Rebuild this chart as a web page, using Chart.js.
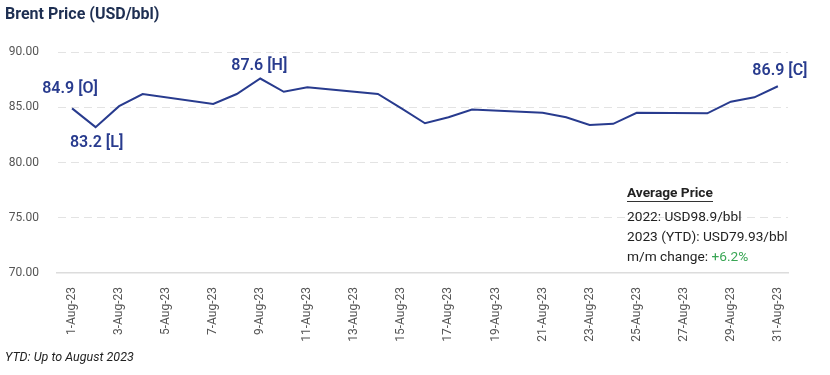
<!DOCTYPE html>
<html>
<head>
<meta charset="utf-8">
<script src="https://cdn.jsdelivr.net/npm/chart.js@4"></script>
<style>
  html, body { margin: 0; padding: 0; background: #fff; }
  #wrap { position: relative; width: 830px; height: 375px; font-family: Roboto, sans-serif; }
  #c { position: absolute; left: 0; top: 0; }
  .title { position: absolute; left: 5px; top: 4px; font-size: 16px; font-weight: 700; color: #1e2f52; }
  .foot { position: absolute; left: 5px; top: 349px; font-size: 12.5px; font-style: italic; color: #222; }
  .avg { position: absolute; left: 627px; top: 182px; font-size: 13.7px; color: #222; line-height: 20px; }
  .avg .hd { font-weight: 700; border-bottom: 1.5px solid #333; display: inline-block; line-height: 18px; margin-bottom: 4px; }
  .avg .up { color: #3aa655; }
</style>
</head>
<body>
<div id="wrap">
  <canvas id="c" width="830" height="375"></canvas>
  <div class="title">Brent Price (USD/bbl)</div>
  <div class="avg">
    <div class="hd">Average Price</div>
    <div>2022: USD98.9/bbl</div>
    <div>2023 (YTD): USD79.93/bbl</div>
    <div>m/m change: <span class="up">+6.2%</span></div>
  </div>
  <div class="foot">YTD: Up to August 2023</div>
</div>
<script>
// August 2023 trading days and Brent closes
const days   = [1, 2, 3, 4, 7, 8, 9, 10, 11, 14, 15, 16, 17, 18, 21, 22, 23, 24, 25, 28, 29, 30, 31];
const prices = [84.9, 83.2, 85.1, 86.2, 85.3, 86.2, 87.6, 86.4, 86.8, 86.2, 84.9, 83.55, 84.1, 84.8, 84.5, 84.1, 83.4, 83.5, 84.5, 84.45, 85.5, 85.9, 86.9];
const tickDays = [1, 3, 5, 7, 9, 11, 13, 15, 17, 19, 21, 23, 25, 27, 29, 31];
const yTicks = [70, 75, 80, 85, 90];
// open / low / high / close markers
const marks = [
  { day: 1,  tag: 'O' },
  { day: 2,  tag: 'L' },
  { day: 9,  tag: 'H' },
  { day: 31, tag: 'C' }
];
const markOffset = { O: [-2, -19], L: [1, 16], H: [-1, -13], C: [2, -15] };

const navy = '#283b8e';

const markLabels = {
  id: 'markLabels',
  afterDatasetsDraw(chart) {
    const { ctx, scales: { x, y } } = chart;
    ctx.save();
    ctx.font = '600 16px Roboto, sans-serif';
    ctx.fillStyle = navy;
    ctx.textAlign = 'center';
    ctx.textBaseline = 'middle';
    marks.forEach(m => {
      const v = prices[days.indexOf(m.day)];
      const [dx, dy] = markOffset[m.tag];
      ctx.fillText(`${v.toFixed(1)} [${m.tag}]`, x.getPixelForValue(m.day) + dx, y.getPixelForValue(v) + dy);
    });
    ctx.restore();
  }
};

Chart.defaults.font.family = 'Roboto, sans-serif';

new Chart(document.getElementById('c'), {
  type: 'line',
  data: {
    datasets: [{
      data: days.map((d, i) => ({ x: d, y: prices[i] })),
      borderColor: navy,
      borderWidth: 2,
      pointRadius: 0,
      tension: 0,
      fill: false
    }]
  },
  options: {
    responsive: false,
    animation: false,
    layout: { padding: { left: 7, right: 42, top: 52, bottom: 27 } },
    plugins: { legend: { display: false }, tooltip: { enabled: false } },
    scales: {
      x: {
        type: 'linear', min: 0.36, max: 31.43,
        afterBuildTicks: s => { s.ticks = tickDays.map(v => ({ value: v })); },
        afterFit: s => { s.height = 75; },
        grid: { display: false },
        border: { color: '#dcdcdc', width: 1.5 },
        ticks: {
          color: '#555', font: { size: 12 },
          minRotation: 90, maxRotation: 90, padding: 6, autoSkip: false,
          callback: v => `${v}-Aug-23`
        }
      },
      y: {
        min: 70, max: 90,
        afterBuildTicks: s => { s.ticks = yTicks.map(v => ({ value: v })); },
        afterFit: s => { s.width = 50; },
        grid: { color: ctx => ctx.tick.value === 70 ? 'transparent' : '#e3e3e3', lineWidth: 1, drawTicks: false },
        border: { display: true, color: 'transparent', dash: [8, 5] },
        ticks: { color: '#555', font: { size: 12 }, padding: 18, callback: v => v.toFixed(2) }
      }
    }
  },
  plugins: [markLabels]
});
</script>
</body>
</html>
